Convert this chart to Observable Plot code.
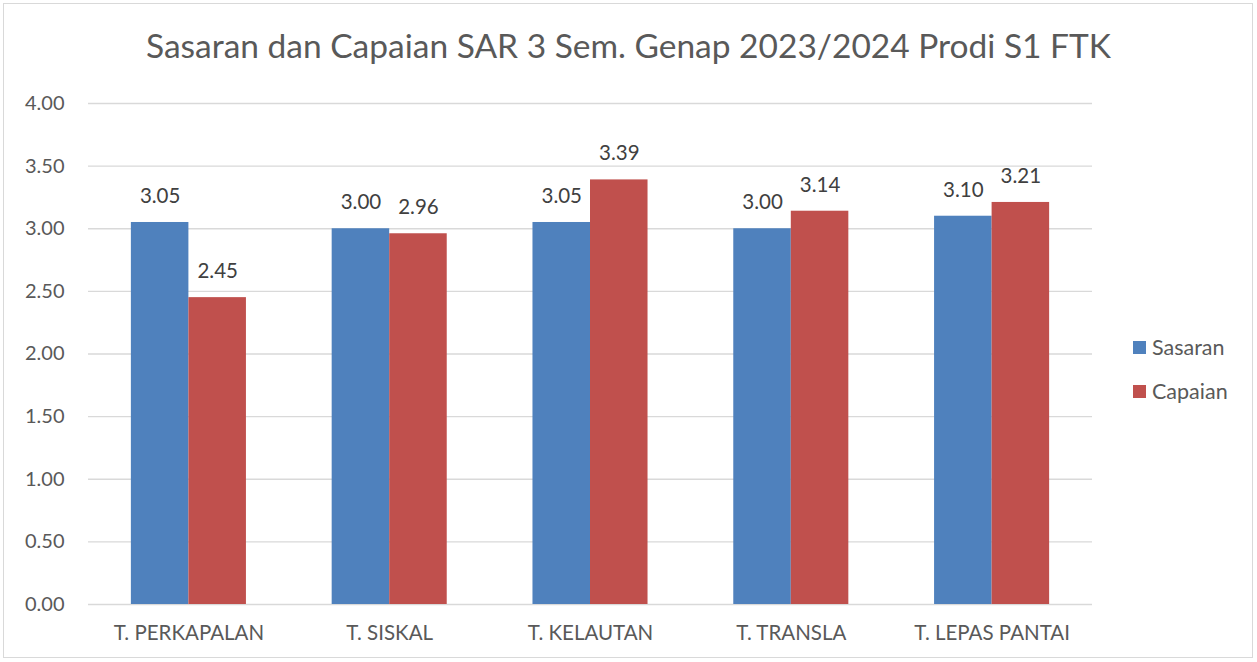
<!DOCTYPE html>
<html><head><meta charset="utf-8">
<script src="https://cdn.jsdelivr.net/npm/d3@7"></script>
<script src="https://cdn.jsdelivr.net/npm/@observablehq/plot@0.6"></script>
<style>
body{margin:0;background:#fff;}
#wrap{position:relative;width:1257px;height:662px;overflow:hidden;font-family:Lato,"Open Sans",sans-serif;background:#fff}
#frame{position:absolute;left:3px;top:3px;width:1250px;height:655px;border:1px solid #d9d9d9;box-sizing:border-box}
#title{position:absolute;left:0;top:23px;width:1257px;text-align:center;font-size:33.5px;line-height:44px;color:#595959;white-space:nowrap}
#chart{position:absolute;left:0;top:80px}
#legend{position:absolute;left:1133px;top:332px;font-size:21.5px;color:#595959}
.li{display:flex;align-items:center;height:30px;margin-bottom:14px}
.sw{width:13px;height:13px;margin-right:6px}
</style>
</head><body>
<div id="wrap">
  <div id="frame"></div>
  <div id="title">Sasaran dan Capaian SAR 3 Sem. Genap 2023/2024 Prodi S1 FTK</div>
  <div id="chart"></div>
  <div id="legend"></div>
</div>
<script>
const categories = ["T. PERKAPALAN","T. SISKAL","T. KELAUTAN","T. TRANSLA","T. LEPAS PANTAI"];
const sasaran = [3.05, 3.00, 3.05, 3.00, 3.10];
const capaian = [2.45, 2.96, 3.39, 3.14, 3.21];
const seriesNames = ["Sasaran","Capaian"];
const seriesColors = ["#4f81bd","#c0504d"];
const yTicks = [0, 0.5, 1, 1.5, 2, 2.5, 3, 3.5, 4];

const dataS = categories.map((c,i)=>({cat:c, series:"Sasaran", value:sasaran[i]}));
const dataC = categories.map((c,i)=>({cat:c, series:"Capaian", value:capaian[i]}));

const W = 1257, ML = 88, MR = 165;
const step = (W-ML-MR)/categories.length;
const pIn = 0.427;
const half = step*(1-pIn)/2;

const txt = "#595959";
const chart = Plot.plot({
  width: W, height: 582,
  marginLeft: ML, marginRight: MR, marginTop: 23, marginBottom: 58,
  style: {fontFamily: "Lato, 'Open Sans', sans-serif", background: "transparent"},
  x: {domain: categories, paddingInner: pIn, paddingOuter: pIn/2, round: false, label: null},
  y: {domain: [0, 4], label: null},
  color: {domain: seriesNames, range: seriesColors},
  marks: [
    Plot.gridY(yTicks, {stroke: "#d9d9d9", strokeOpacity: 1, strokeWidth: 1.3}),
    Plot.barY(dataS, {x: "cat", y: "value", fill: "series", insetRight: half}),
    Plot.barY(dataC, {x: "cat", y: "value", fill: "series", insetLeft: half}),
    Plot.text(dataS, {x: "cat", y: "value", text: d => d.value.toFixed(2), dx: -half/2, dy: -26, fontSize: 20.5, fill: "#404040"}),
    Plot.text(dataC, {x: "cat", y: "value", text: d => d.value.toFixed(2), dx: half/2, dy: -26, fontSize: 20.5, fill: "#404040"}),
    Plot.axisY(yTicks, {tickFormat: d => d.toFixed(2), tickSize: 0, tickPadding: 24, fontSize: 20, fill: txt, label: null}),
    Plot.axisX({tickSize: 0, tickPadding: 21, fontSize: 20.5, fill: txt, label: null})
  ]
});
document.getElementById("chart").appendChild(chart);

const leg = document.getElementById("legend");
seriesNames.forEach((s,i)=>{
  const row = document.createElement("div"); row.className="li";
  const sw = document.createElement("div"); sw.className="sw"; sw.style.background = seriesColors[i];
  const t = document.createElement("span"); t.textContent = s;
  row.appendChild(sw); row.appendChild(t); leg.appendChild(row);
});
</script>
</body></html>
